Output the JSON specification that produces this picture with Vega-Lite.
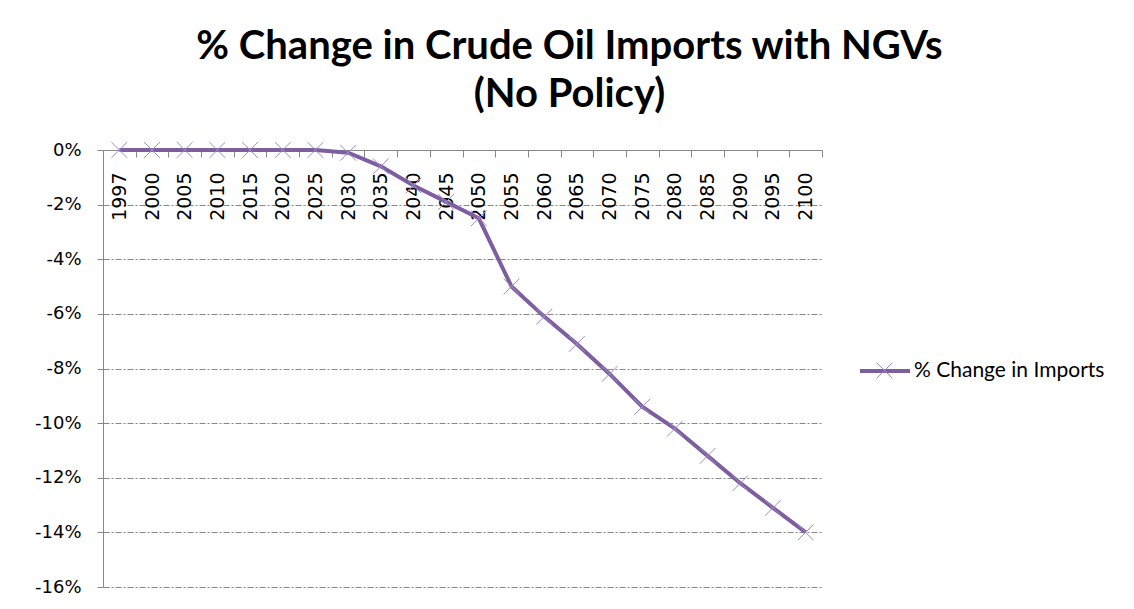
{
  "$schema": "https://vega.github.io/schema/vega-lite/v6.json",
  "width": 719,
  "height": 437,
  "autosize": "none",
  "padding": {"left": 103, "top": 150, "right": 312, "bottom": 22},
  "background": "white",
  "title": {
    "text": ["% Change in Crude Oil Imports with NGVs", "(No Policy)"],
    "anchor": "middle",
    "frame": "group",
    "dx": 107,
    "font": "Lato",
    "fontSize": 40,
    "fontWeight": "bold",
    "color": "black",
    "lineHeight": 48,
    "offset": 25
  },
  "data": {
    "values": [
      {"year": "1997", "change": 0},
      {"year": "2000", "change": 0},
      {"year": "2005", "change": 0},
      {"year": "2010", "change": 0},
      {"year": "2015", "change": 0},
      {"year": "2020", "change": 0},
      {"year": "2025", "change": 0},
      {"year": "2030", "change": -0.001},
      {"year": "2035", "change": -0.006},
      {"year": "2040", "change": -0.013},
      {"year": "2045", "change": -0.019},
      {"year": "2050", "change": -0.025},
      {"year": "2055", "change": -0.050},
      {"year": "2060", "change": -0.061},
      {"year": "2065", "change": -0.071},
      {"year": "2070", "change": -0.082},
      {"year": "2075", "change": -0.094},
      {"year": "2080", "change": -0.102},
      {"year": "2085", "change": -0.112},
      {"year": "2090", "change": -0.122},
      {"year": "2095", "change": -0.131},
      {"year": "2100", "change": -0.140}
    ]
  },
  "encoding": {
    "x": {
      "field": "year",
      "type": "ordinal",
      "sort": null,
      "scale": {"type": "band", "paddingInner": 0, "paddingOuter": 0},
      "axis": {
        "orient": "bottom",
        "offset": -437,
        "tickBand": "extent",
        "labelAngle": -90,
        "labelPadding": 15,
        "tickSize": 7,
        "domainColor": "#888888",
        "tickColor": "#888888",
        "labelFont": "DejaVu Sans",
        "labelFontSize": 19,
        "labelColor": "black",
        "title": null,
        "grid": false
      }
    },
    "y": {
      "field": "change",
      "type": "quantitative",
      "scale": {"domain": [-0.16, 0], "nice": false},
      "axis": {
        "values": [0, -0.02, -0.04, -0.06, -0.08, -0.1, -0.12, -0.14, -0.16],
        "labelExpr": "round(datum.value*100) + '%'",
        "grid": true,
        "gridDash": [6, 2, 2, 2],
        "gridColor": "#888888",
        "tickSize": 6,
        "tickColor": "#888888",
        "domainColor": "#888888",
        "labelPadding": 16,
        "labelFont": "DejaVu Sans",
        "labelFontSize": 18,
        "labelColor": "black",
        "title": null
      }
    }
  },
  "layer": [
    {
      "mark": {"type": "line", "strokeWidth": 4},
      "encoding": {
        "color": {
          "datum": "% Change in Imports",
          "scale": {"range": ["#7D5FA0"]},
          "legend": {
            "orient": "none",
            "legendX": 755,
            "legendY": 194,
            "title": null,
            "padding": 0,
            "symbolType": "stroke",
            "symbolSize": 2500,
            "symbolStrokeWidth": 4,
            "labelFont": "Lato",
            "labelFontSize": 21,
            "labelColor": "black",
            "labelLimit": 400,
            "labelOffset": 2
          }
        }
      }
    },
    {
      "mark": {"type": "point", "filled": false, "stroke": "#9F8BC8", "strokeWidth": 1, "size": 250, "opacity": 1},
      "encoding": {
        "shape": {
          "datum": "x",
          "scale": {"range": ["M-1,-1L1,1M-1,1L1,-1"]},
          "legend": {
            "orient": "none",
            "legendX": 773,
            "legendY": 212,
            "title": null,
            "padding": 0,
            "symbolSize": 250,
            "symbolStrokeColor": "#9F8BC8",
            "symbolStrokeWidth": 1,
            "symbolFillColor": "transparent",
            "labelExpr": "''"
          }
        }
      }
    }
  ],
  "config": {
    "view": {"stroke": null}
  }
}
